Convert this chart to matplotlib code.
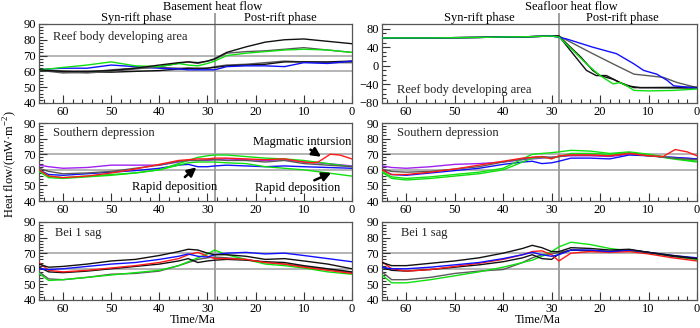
import matplotlib
matplotlib.use("Agg")
import matplotlib.pyplot as plt
from matplotlib.lines import Line2D
from matplotlib.ticker import MultipleLocator

plt.rcParams["font.family"] = ["Liberation Serif", "DejaVu Serif"]
plt.rcParams["mathtext.fontset"] = "custom"
plt.rcParams["mathtext.rm"] = "Liberation Serif"

RIFT_END = 28.4  # Ma, syn-rift / post-rift boundary

# common time grid (Ma) for most curves
T = [65, 63, 60, 55, 50, 45, 40, 36, 34, 32, 30, 28.5, 26, 22, 18, 14, 10, 5, 0]

# --- basement heat flow, reef body developing area
bs_reef_black1 = [61, 60.5, 60, 60, 60.5, 62, 64, 65.5, 66, 65.5, 66.5, 68, 72, 75.5, 78.5, 80, 80.5, 79, 77.5]
bs_reef_gray1 = [61, 60.5, 59.5, 59, 60, 61.5, 63, 65, 66, 65, 66.5, 67.5, 71.5, 72.5, 73, 74, 75, 73.5, 72]
bs_reef_green = [61, 61.5, 62.5, 64, 66, 63.5, 63, 65, 64, 63.5, 65, 66.5, 70, 71.5, 72.5, 73.5, 74, 73.5, 72]
bs_reef_blue = [61, 61.5, 62, 62, 64, 63, 62, 61.5, 61, 61, 61, 61, 63, 63.5, 63.5, 63, 65.5, 65, 66.5]
bs_reef_black2 = [61, 60.5, 60, 59.5, 59.5, 60, 60.5, 61.5, 62, 62, 62, 62.5, 63.5, 64, 64.5, 66, 66, 66, 66.5]
bs_reef_gray2 = [61, 60, 59, 59.5, 61, 62, 62.5, 62, 62, 61.5, 62, 63, 64, 64.5, 65.5, 66.5, 66, 65.5, 65.5]

# --- seafloor heat flow, reef body developing area (own time steps)
sf_pre_t = [65, 60, 55, 50, 45, 40, 35, 30]
sf_pre_v = [60, 60, 60, 60.5, 61, 62, 62.5, 64]
sf_reef_blue_t = [28.5, 27, 21.5, 18, 16.6, 13, 11, 8.3, 6.2, 4.8, 0]
sf_reef_blue_v = [61, 58, 40, 30, 26, 4, -10, -18, -31, -43, -48]
sf_reef_gray_t = [28.5, 21.5, 17.3, 13, 10.3, 6.9, 4.1, 0]
sf_reef_gray_v = [64, 26, 4, -18, -21, -25, -36, -47]
sf_reef_black1_t = [28.5, 24, 21.5, 20, 17.3, 14.5, 11.7, 0]
sf_reef_black1_v = [64, 19, -10, -21, -29, -43, -47, -48]
sf_reef_black2_t = [28.5, 25.6, 22.8, 20.8, 18.7, 15.9, 13, 0]
sf_reef_black2_v = [64, 26, -10, -21, -21, -36, -47, -46]
sf_reef_green_t = [28.5, 25.6, 22.8, 20, 17.3, 15.9, 14.5, 13, 10, 5, 0]
sf_reef_green_v = [62, 33, 4, -21, -39, -36, -43, -53, -54, -53, -50]

# --- basement heat flow, southern depression
bs_south_purple = [63, 62, 61, 61.5, 63, 63, 63, 65, 66, 66, 66, 66.5, 67, 66.5, 66, 66.5, 65, 64, 62.5]
bs_south_black = [61, 59, 57.5, 58, 59, 61, 63, 65.5, 66, 66, 66.5, 66.5, 66, 66, 65, 66, 64, 63, 62]
bs_south_red_t = [65, 63, 60, 55, 50, 45, 40, 36, 34, 32, 30, 28.5, 26, 22, 18, 14, 10, 8, 7, 4.5, 2.5, 0]
bs_south_red = [60, 56, 55, 56, 58, 60.5, 63.5, 66, 66.5, 67, 67, 67.5, 67.5, 67, 66.5, 67, 65, 64.5, 65, 70, 69.5, 67]
bs_south_green1 = [60, 56, 55, 56, 57, 58, 60, 64, 66, 68, 69, 69.5, 69.5, 68.5, 67.5, 67, 66, 64, 62]
bs_south_green2 = [59, 55, 54.5, 55.5, 56.5, 58, 60, 63, 64.5, 65, 65, 65, 64.5, 64, 62, 61, 60, 58, 56]
bs_south_blue = [60, 57, 56.5, 57.5, 58.5, 59.5, 61, 63, 63.5, 62, 62, 62.5, 63, 62.5, 62, 62.5, 62, 61.5, 61]

# --- seafloor heat flow, southern depression
sf_south_purple = [62.5, 61.5, 61, 62, 63.5, 64, 65, 66.5, 67, 67.5, 68, 68.5, 69, 69, 68.5, 70, 69, 68, 67]
sf_south_black = [60.5, 59, 58.5, 59, 60.5, 62, 65, 67, 68, 68.5, 68, 68.5, 69.5, 69.5, 69, 70.5, 69, 67.5, 66.5]
sf_south_red_t = [65, 63, 60, 55, 50, 45, 40, 36, 34, 32, 30, 28.5, 26, 22, 18, 14, 10, 7, 4.5, 2, 0]
sf_south_red = [60, 57, 57, 58.5, 60.5, 63, 65.5, 67.5, 68, 68.5, 67, 69, 69.5, 69.5, 69, 70.5, 69, 68.5, 73, 71.5, 69]
sf_south_green1 = [59, 55.5, 54.5, 55.5, 57, 58.5, 61, 67, 70, 70.5, 71, 71.5, 72.5, 72, 70.5, 71.5, 70, 67.5, 65.5]
sf_south_green2 = [58.5, 54.5, 53.5, 54.5, 56, 57.5, 60, 65, 67.5, 68, 67.5, 68.5, 70.5, 70.5, 70, 71, 69.5, 67, 65]
sf_south_blue = [60, 57, 56.5, 58, 59.5, 61, 63.5, 65, 65.5, 64, 64.5, 65.5, 67.5, 67.5, 67, 69.5, 69, 68, 67]

# --- basement heat flow, Bei 1 sag
bs_bei_black1 = [63, 61, 61.5, 63, 65, 66, 68.5, 71, 72.5, 72, 70, 69, 69, 68, 66, 66.5, 65, 63, 60]
bs_bei_blue = [60, 59.5, 60, 61.5, 63, 64, 66, 68, 69.5, 68, 67.5, 69, 70, 70.5, 69.5, 70, 68.5, 66.5, 64.5]
bs_bei_red = [64, 59, 58, 59, 60.5, 62, 64, 66.5, 69, 70.5, 68, 66.5, 66.5, 66, 64, 63, 61, 59, 57]
bs_bei_black2 = [61, 58, 57.5, 58.5, 60, 61.5, 63, 65, 66.5, 64, 65, 65.5, 66, 65.5, 64.5, 64, 62, 60, 58]
bs_bei_gray = [58, 53.5, 53, 54.5, 56.5, 57, 58.5, 62, 64, 66, 67, 67.5, 67, 66, 64, 63, 61.5, 59.5, 57.5]
bs_bei_green = [57, 52.5, 53, 54.5, 56, 57.5, 59, 62, 64.5, 67, 69.5, 72, 69, 66, 63, 62, 60.5, 58, 56.5]

# --- seafloor heat flow, Bei 1 sag
sf_bei_black1 = [64, 62, 62, 63.5, 65, 67, 70, 73, 75, 73.5, 71, 71, 73.5, 73, 72, 72.5, 70.5, 68.5, 66.5]
sf_bei_blue = [61, 60, 60, 61, 62.5, 64, 66.5, 69, 70.5, 69, 68, 69, 72, 72, 71, 72, 70.5, 68.5, 67]
sf_bei_red = [64.5, 60, 58.5, 59.5, 61.5, 63.5, 66, 69, 71, 71.5, 69, 65, 70, 71, 70.5, 71, 69.5, 67, 65]
sf_bei_black2 = [61, 59, 58.5, 59.5, 61, 62.5, 64.5, 67, 69, 66.5, 66, 69.5, 72, 71.5, 71, 72, 70.5, 68, 66.5]
sf_bei_gray = [58, 53, 53, 54.5, 57, 58.5, 59.5, 64, 67, 69, 69.5, 70.5, 72, 71.5, 71, 72, 70.5, 68, 66]
sf_bei_green = [56, 51, 51, 53, 55.5, 58, 61, 64, 65.5, 68, 71, 74, 77, 75.5, 73, 71.5, 70, 68, 66]

BLACK = "#111111"
GRAY = "#5a5a5a"
BLUE = "#1010ff"
GREEN = "#10e010"
RED = "#ff1a1a"
PURPLE = "#a020f0"
FS = 9


def style_axis(ax, ylim, ymajor, yminor, hlines=True):
    ax.set_xlim(65, 0)
    ax.set_ylim(*ylim)
    ax.xaxis.set_major_locator(MultipleLocator(10))
    ax.xaxis.set_minor_locator(MultipleLocator(2))
    ax.yaxis.set_major_locator(MultipleLocator(ymajor))
    ax.yaxis.set_minor_locator(MultipleLocator(yminor))
    ax.tick_params(which="both", direction="in", top=False, right=False,
                   labelsize=FS, color="#333333", pad=2)
    ax.tick_params(which="major", length=5.5, width=0.8)
    ax.tick_params(which="minor", length=3, width=0.8)
    for s in ax.spines.values():
        s.set_color("#555555")
        s.set_linewidth(0.9)
    ax.axvline(RIFT_END, color="#a0a0a0", lw=1.4, zorder=1)
    if hlines:
        for h in (60, 70):
            ax.axhline(h, color="#a0a0a0", lw=1.1, zorder=1)


def plot_lines(ax, lines):
    for t, v, c in lines:
        ax.plot(t, v, color=c, lw=1.0, zorder=3)


def label(ax, x, y, s):
    ax.text(x, y, s, transform=ax.transAxes, fontsize=FS, va="center", color="#222222")


fig = plt.figure(figsize=(7, 3.28), dpi=100)
W_L, W_R = 0.447, 0.45
X_L, X_R = 0.0557, 0.5457
rows = [(0.686, 0.241), (0.387, 0.238), (0.0854, 0.238)]

axes = {}
for r, (b, h) in enumerate(rows):
    axes[(r, 0)] = fig.add_axes([X_L, b, W_L, h])
    axes[(r, 1)] = fig.add_axes([X_R, b, W_R, h])

# row 0, basement
ax = axes[(0, 0)]
style_axis(ax, (40, 90), 10, 2)
plot_lines(ax, [(T, bs_reef_gray2, GRAY), (T, bs_reef_black2, BLACK), (T, bs_reef_blue, BLUE),
                (T, bs_reef_gray1, GRAY), (T, bs_reef_green, GREEN), (T, bs_reef_black1, BLACK)])
label(ax, 0.045, 0.83, "Reef body developing area")

# row 0, seafloor
ax = axes[(0, 1)]
style_axis(ax, (-80, 90), 40, 10, hlines=False)
ax.set_yticks([-80, -40, 0, 40, 80])
pre = [(sf_pre_t + t, sf_pre_v + v, c) for t, v, c in [
    (sf_reef_gray_t, sf_reef_gray_v, GRAY),
    (sf_reef_black1_t, sf_reef_black1_v, BLACK),
    (sf_reef_black2_t, sf_reef_black2_v, BLACK),
    (sf_reef_blue_t, sf_reef_blue_v, BLUE),
    (sf_reef_green_t, sf_reef_green_v, GREEN)]]
plot_lines(ax, pre)
label(ax, 0.047, 0.17, "Reef body developing area")

# row 1, basement
ax = axes[(1, 0)]
style_axis(ax, (40, 90), 10, 2)
plot_lines(ax, [(T, bs_south_purple, PURPLE), (T, bs_south_blue, BLUE), (T, bs_south_green2, GREEN),
                (T, bs_south_green1, GREEN), (T, bs_south_black, GRAY), (bs_south_red_t, bs_south_red, RED)])
label(ax, 0.045, 0.87, "Southern depression")
arrow = dict(arrowstyle="-|>", color="black", lw=1.8, mutation_scale=13, shrinkA=0, shrinkB=0)
ax.annotate("", xy=(6.4, 68.4), xytext=(8.6, 72.9), arrowprops=arrow)
ax.text(10.3, 77.8, "Magmatic intursion", fontsize=FS, ha="center", va="center")
ax.annotate("", xy=(32.3, 61.6), xytext=(34.7, 55.4), arrowprops=arrow)
ax.text(36.9, 49, "Rapid deposition", fontsize=FS, ha="center", va="center")
ax.annotate("", xy=(4.3, 58.1), xytext=(7.8, 53.3), arrowprops=arrow)
ax.text(11.3, 48.3, "Rapid deposition", fontsize=FS, ha="center", va="center")

# row 1, seafloor
ax = axes[(1, 1)]
style_axis(ax, (40, 90), 10, 2)
plot_lines(ax, [(T, sf_south_purple, PURPLE), (T, sf_south_blue, BLUE), (T, sf_south_green2, GREEN),
                (T, sf_south_green1, GREEN), (T, sf_south_black, GRAY), (sf_south_red_t, sf_south_red, RED)])
label(ax, 0.047, 0.87, "Southern depression")

# row 2, basement
ax = axes[(2, 0)]
style_axis(ax, (40, 90), 10, 2)
plot_lines(ax, [(T, bs_bei_gray, GRAY), (T, bs_bei_green, GREEN), (T, bs_bei_black2, BLACK),
                (T, bs_bei_red, RED), (T, bs_bei_blue, BLUE), (T, bs_bei_black1, BLACK)])
label(ax, 0.05, 0.86, "Bei 1 sag")

# row 2, seafloor
ax = axes[(2, 1)]
style_axis(ax, (40, 90), 10, 2)
plot_lines(ax, [(T, sf_bei_gray, GRAY), (T, sf_bei_green, GREEN), (T, sf_bei_black2, BLACK),
                (T, sf_bei_red, RED), (T, sf_bei_blue, BLUE), (T, sf_bei_black1, BLACK)])
label(ax, 0.06, 0.86, "Bei 1 sag")

# phase divider continues above the top panels, between the phase titles
for col in (0, 1):
    ax = axes[(0, col)]
    ax.add_line(Line2D([RIFT_END, RIFT_END], [1.0, 1.12], transform=ax.get_xaxis_transform(),
                       color="#a0a0a0", lw=1.4, clip_on=False))

# headings
fig.text(213 / 700, 1 - 7 / 328, "Basement heat flow", ha="center", va="center", fontsize=FS)
fig.text(136 / 700, 1 - 18 / 328, "Syn-rift phase", ha="center", va="center", fontsize=FS)
fig.text(280 / 700, 1 - 18 / 328, "Post-rift phase", ha="center", va="center", fontsize=FS)
fig.text(571 / 700, 1 - 7 / 328, "Seafloor heat flow", ha="center", va="center", fontsize=FS)
fig.text(479 / 700, 1 - 18 / 328, "Syn-rift phase", ha="center", va="center", fontsize=FS)
fig.text(622 / 700, 1 - 18 / 328, "Post-rift phase", ha="center", va="center", fontsize=FS)
fig.text(10 / 700, 0.5, "Heat flow/(mW·m$^{-2}$)", rotation=90, ha="center", va="center", fontsize=FS)
fig.text(193 / 700, 1 - 320 / 328, "Time/Ma", ha="center", va="center", fontsize=FS)
fig.text(538 / 700, 1 - 320 / 328, "Time/Ma", ha="center", va="center", fontsize=FS)

fig.savefig("out.png", dpi=100)
